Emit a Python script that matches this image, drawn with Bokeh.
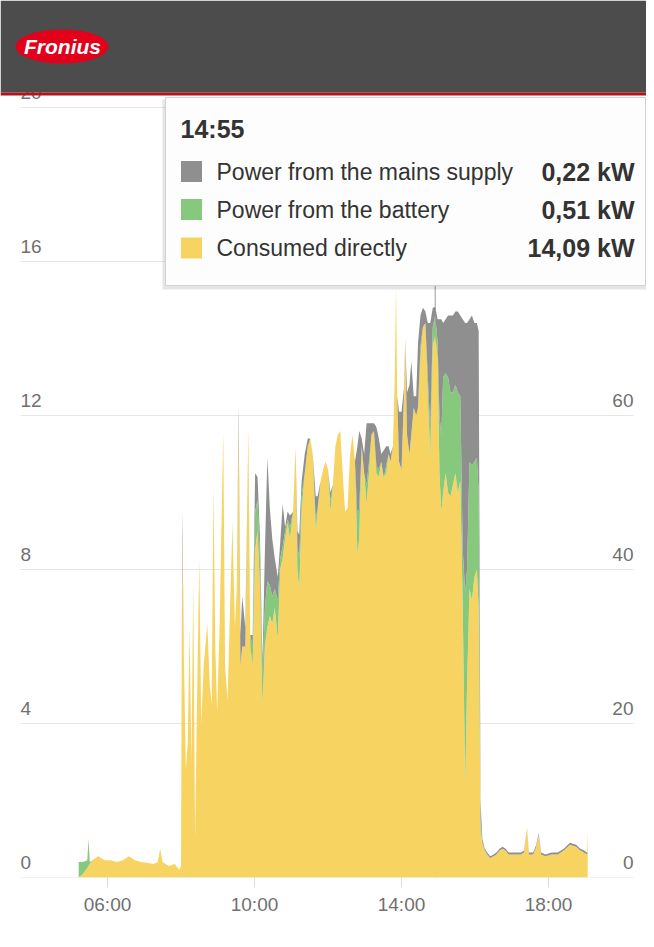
from bokeh.plotting import figure
from bokeh.models import Range1d, FixedTicker, ColumnDataSource
from bokeh.core.properties import value
from bokeh.embed import file_html
from bokeh.resources import INLINE

# ---------------- data ----------------
times = [
    "05:13","05:20","05:27","05:29","05:31","05:35","05:45","05:55","06:05","06:15",
    "06:25","06:35","06:45","06:55","07:05","07:15","07:22","07:26","07:30","07:40",
    "07:50","07:57","08:00","08:02","08:05","08:08","08:11","08:14","08:17","08:20",
    "08:23","08:26","08:30","08:33","08:37","08:43","08:47","08:50","08:53","08:56",
    "08:59","09:03","09:09","09:12","09:16","09:20","09:24","09:28","09:31","09:34",
    "09:37","09:40","09:45","09:50","09:53","09:57","10:01","10:05","10:09","10:13",
    "10:17","10:21","10:25","10:29","10:33","10:38","10:42","10:46","10:50","10:54",
    "10:58","11:03","11:07","11:10","11:13","11:17","11:22","11:27","11:31","11:35",
    "11:40","11:43","11:48","11:52","11:56","12:00","12:04","12:08","12:12","12:16",
    "12:20","12:24","12:28","12:32","12:36","12:40","12:44","12:48","12:51","12:55",
    "12:59","13:03","13:07","13:11","13:15","13:19","13:23","13:27","13:31","13:35",
    "13:39","13:42","13:46","13:49","13:51","13:53","13:56","14:00","14:04","14:06",
    "14:09","14:13","14:16","14:20","14:24","14:27","14:31","14:35","14:39","14:43",
    "14:47","14:51","14:55","14:59","15:02","15:05","15:08","15:12","15:16","15:20",
    "15:24","15:28","15:32","15:36","15:40","15:44","15:47","15:51","15:55","15:59",
    "16:03","16:06","16:09","16:12","16:16","16:20","16:25","16:30","16:35","16:40",
    "16:45","16:50","16:55","17:05","17:15","17:20","17:25","17:28","17:35","17:40",
    "17:44","17:48","17:55","18:05","18:15","18:25","18:35","18:45","18:52","18:58",
    "19:03","19:04",
]

consumed = [
    0.00,0.10,0.25,0.30,0.35,0.45,0.55,0.45,0.45,0.40,
    0.45,0.55,0.45,0.40,0.38,0.35,0.40,0.75,0.40,0.30,
    0.35,0.20,0.30,8.80,5.50,2.80,3.50,6.50,3.00,7.70,
    1.00,4.50,8.30,4.00,5.50,6.60,5.00,4.50,10.20,6.00,
    4.30,6.50,11.60,5.50,4.60,7.00,9.20,6.50,7.50,11.80,
    5.50,6.00,6.00,11.70,6.00,5.50,8.50,9.00,7.50,4.50,
    6.00,6.50,6.80,6.60,7.00,6.20,8.00,8.30,8.80,9.20,
    8.80,9.50,11.20,8.00,7.50,9.50,10.50,11.20,11.40,11.00,
    9.00,9.50,10.30,10.60,10.80,10.60,9.50,10.20,11.20,11.50,
    11.60,10.50,9.50,9.60,11.00,11.50,10.80,8.40,8.80,11.20,
    10.50,9.70,10.50,11.50,11.60,10.50,10.40,10.80,10.40,10.50,
    11.00,10.80,11.20,13.00,15.40,12.50,10.80,10.60,12.50,14.00,
    11.50,11.00,11.50,12.20,12.00,12.20,13.50,14.30,14.40,12.50,
    11.00,13.80,14.09,13.50,10.50,9.50,10.00,10.50,10.00,9.90,
    10.20,10.50,10.00,10.30,7.00,2.40,5.00,7.50,7.20,7.80,
    8.00,7.00,1.20,0.90,0.70,0.60,0.50,0.55,0.60,0.70,
    0.75,0.70,0.60,0.60,0.60,0.65,1.30,0.60,0.60,0.80,
    1.10,0.60,0.55,0.60,0.60,0.70,0.85,0.80,0.70,0.65,
    0.60,1.25,
]

battery = [
    0.40,0.30,0.20,0.70,0.05,0,0,0,0,0,
    0,0,0,0,0,0,0,0,0,0,
    0,0,0,0,0,0,0,0,0,0,
    0,0,0,0,0,0,0,0,0,0,
    0,0,0,0,0,0,0,0,0,0,
    0,0,0,0,0.30,0.50,1.00,0.80,0.80,0.80,
    1.00,1.20,0.80,0.70,0.50,1.00,0.30,0.30,0.20,0.10,
    0.30,0,0,0.60,0.80,0.40,0,0,0,0,
    0.30,0.10,0,0,0,0,0.30,0,0,0,
    0,0,0,0,0,0,0,1.00,0.80,0,
    0,0.50,0.30,0,0,0.20,0.20,0,0,0.20,
    0,0,0,0,0,0,0,0,0,0,
    0,0,0,0,0,0,0.30,0,0,0.50,
    0.60,0.50,0.51,0.40,1.50,2.00,3.00,2.60,3.00,2.70,
    2.40,2.30,2.60,2.20,1.50,5.00,3.00,3.30,3.50,3.00,
    2.90,3.00,0.30,0,0,0,0,0,0,0,
    0,0,0,0,0,0,0,0,0,0,
    0,0,0,0,0,0,0,0,0,0,
    0,0,
]

mains = [
    0,0,0,0,0,0,0,0,0,0,
    0,0,0,0,0,0,0,0,0,0,
    0,0,0,0.70,0,0,0,0,0,0,
    0,0,0,0,0,0,0,0,0,0,
    0,0,0,0,0,0,0,0,0,0.50,
    0.80,1.30,0.50,0,0,0.30,1.00,0.60,0.50,0.30,
    1.50,3.20,2.00,1.50,0.80,0.60,0.40,1.10,0.10,0.20,
    0.30,0,0,0.40,0.60,0.40,0.50,0.20,0,0,
    0.60,0.30,0,0,0,0,0.20,0,0,0,
    0,0,0,0,0,0,0,1.80,2.00,0.20,
    0.50,1.60,1.00,0.30,0.20,1.00,0.80,0.20,0.70,0.50,
    0.20,0.20,0,0,0,0,1.30,1.50,0.20,0,
    1.10,1.80,1.90,0.30,0.50,1.70,0.80,0.50,0.30,1.40,
    2.80,0.50,0.22,0.60,2.50,3.00,1.40,1.40,1.60,2.00,
    2.00,1.90,2.10,2.10,6.00,7.00,6.40,3.70,3.90,3.60,
    3.50,4.20,0.50,0.10,0.05,0.05,0.05,0.05,0.05,0.05,
    0.05,0.05,0.05,0.05,0.05,0.05,0,0.05,0.05,0.05,
    0.05,0.05,0.05,0.05,0.05,0.05,0.05,0.05,0.05,0.05,
    0.05,0,
]

series_names = ["Power from the mains supply", "Power from the battery", "Consumed directly"]
series_colors = ["#8f8f8f", "#86c97c", "#f7d462"]
x_ticks = [6, 10, 14, 18]
x_tick_labels = ["06:00", "10:00", "14:00", "18:00"]
left_ticks = [0, 4, 8, 12, 16, 20]
right_ticks = [0, 20, 40, 60, 80]
right_factor = 5
selected_time = "14:55"

assert len(times) == len(consumed) == len(battery) == len(mains)

# ---------------- geometry helpers ----------------
W, H = 646, 931
FRAME_H = 877
PX_H = 36.75     # pixels per hour
PX_KW = 38.5     # pixels per kW
x_start = 6 - 107 / PX_H
x_end = x_start + W / PX_H
y_end = FRAME_H / PX_KW


def dx(px):
    return x_start + px / PX_H


def dy(py):
    return (FRAME_H - py) / PX_KW


FONT = "Liberation Sans"

t = [int(s[:2]) + int(s[3:]) / 60 for s in times]
source = ColumnDataSource(dict(t=t, consumed=consumed, battery=battery, mains=mains))

p = figure(width=W, height=H, x_range=Range1d(x_start, x_end), y_range=Range1d(0, y_end),
           output_backend="svg", toolbar_location=None, y_axis_location=None,
           min_border_left=0, min_border_right=0, min_border_top=0, min_border_bottom=H - FRAME_H)
p.outline_line_color = None
p.xgrid.visible = False
p.ygrid.visible = False
p.background_fill_color = "white"
p.border_fill_color = "white"

# grid lines
gx0, gx1 = dx(20), dx(633)
p.segment(x0=[gx0] * len(left_ticks), x1=[gx1] * len(left_ticks), y0=left_ticks, y1=left_ticks,
          line_color="#e6e6e6", line_width=1)

# crosshair
sel_idx = times.index(selected_time)
sel_t = t[sel_idx]
p.segment(x0=[sel_t], x1=[sel_t], y0=[0], y1=[dy(285)], line_color="#9a9a9a", line_width=1)

# stacked areas
p.varea_stack(stackers=["consumed", "battery", "mains"], x="t",
              color=[series_colors[2], series_colors[1], series_colors[0]], source=source)

# x axis
xa = p.xaxis[0]
xa.ticker = FixedTicker(ticks=x_ticks)
xa.major_label_overrides = {k: v for k, v in zip(x_ticks, x_tick_labels)}
xa.axis_line_color = None
xa.major_tick_line_color = "#dcdcdc"
xa.major_tick_out = 10
xa.major_tick_in = 0
xa.minor_tick_line_color = None
xa.major_label_text_font = FONT
xa.major_label_text_font_size = "19px"
xa.major_label_text_color = "#707070"
xa.major_label_standoff = 6

# left labels
p.text(x=[dx(20)] * len(left_ticks), y=left_ticks, text=[str(v) for v in left_ticks],
       text_font=value(FONT), text_font_size="19px", text_color="#707070",
       text_align="left", text_baseline="bottom", y_offset=-9)
# right labels
p.text(x=[dx(633)] * len(right_ticks), y=[r / right_factor for r in right_ticks],
       text=[str(v) for v in right_ticks],
       text_font=value(FONT), text_font_size="19px", text_color="#707070",
       text_align="right", text_baseline="bottom", y_offset=-9)

# header
p.quad(left=[x_start], right=[x_end], top=[y_end], bottom=[dy(92)], fill_color="#4c4c4c", line_color=None)
p.quad(left=[x_start], right=[x_end], top=[dy(92)], bottom=[dy(95)], fill_color="#b0141e", line_color=None)
p.ellipse(x=[dx(61.5)], y=[dy(46)], width=93, height=34, width_units="screen", height_units="screen",
          fill_color="#e2001a", line_color=None)
p.text(x=[dx(62)], y=[dy(46)], text=["Fronius"], text_font=value(FONT), text_font_style="bold italic",
       text_font_size="21px", text_color="white", text_align="center", text_baseline="middle")

# tooltip
p.quad(left=[dx(162)], right=[dx(646)], top=[dy(99)], bottom=[dy(289)], fill_color="#000000",
       fill_alpha=0.10, line_color=None)
p.quad(left=[dx(165)], right=[dx(645)], top=[dy(97)], bottom=[dy(285)], fill_color="#fdfdfd",
       line_color="#d2d2d2", line_width=1)
p.text(x=[dx(180)], y=[dy(128)], text=[selected_time], text_font=value(FONT), text_font_style="bold",
       text_font_size="25px", text_color="#333333", text_align="left", text_baseline="middle")

row_y = [dy(171), dy(209), dy(247.5)]
sel_vals = [mains[sel_idx], battery[sel_idx], consumed[sel_idx]]
val_text = [("%.2f" % v).replace(".", ",") + " kW" for v in sel_vals]
p.scatter(x=[dx(191)] * 3, y=row_y, marker="square", size=21, fill_color=series_colors,
          line_color=None)
p.text(x=[dx(216)] * 3, y=row_y, text=series_names, text_font=value(FONT), text_font_size="23px",
       text_color="#333333", text_align="left", text_baseline="middle")
p.text(x=[dx(634)] * 3, y=row_y, text=val_text, text_font=value(FONT), text_font_style="bold",
       text_font_size="25px", text_color="#333333", text_align="right", text_baseline="middle")

open("out.html", "w").write(file_html(p, INLINE))
